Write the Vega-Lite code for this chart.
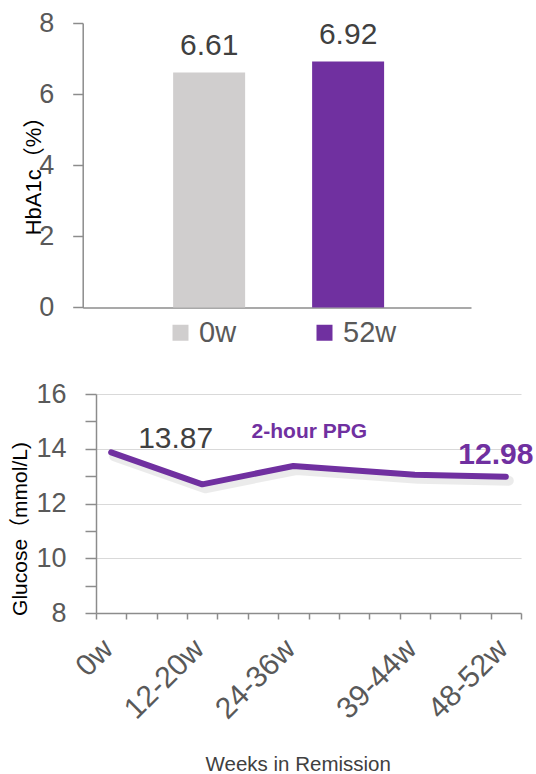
{
  "$schema": "https://vega.github.io/schema/vega-lite/v6.json",
  "background": "white",
  "padding": {"left": 8, "top": 9, "right": 2, "bottom": 0},
  "config": {
    "view": {"stroke": null},
    "font": "Liberation Sans"
  },
  "bounds": "flush",
  "spacing": 86,
  "vconcat": [
    {
      "width": 375,
      "height": 284.4,
      "data": {"values": [
        {"time": "0w", "hba1c": 6.61},
        {"time": "52w", "hba1c": 6.92}
      ]},
      "encoding": {
        "x": {
          "field": "time", "type": "nominal",
          "scale": {"type": "band", "range": [-13.3, 375], "paddingInner": 0.482, "paddingOuter": 0.638, "align": 0.51},
          "axis": {"labels": false, "ticks": false, "title": null, "domainColor": "#8c8c8c", "domainWidth": 1.5}
        },
        "y": {
          "field": "hba1c", "type": "quantitative",
          "scale": {"domain": [0, 8], "nice": false, "zero": true},
          "axis": {
            "values": [0, 2, 4, 6, 8], "grid": false, "offset": 13.3,
            "tickSize": 10, "tickColor": "#8c8c8c", "tickWidth": 1.5,
            "domainColor": "#8c8c8c", "domainWidth": 1.5,
            "labelFontSize": 27, "labelColor": "#595959", "labelPadding": 19,
            "title": "HbA1c（%）", "titleFont": "Liberation Sans, Noto Sans CJK SC",
            "titleFontSize": 22, "titleFontWeight": "normal", "titleColor": "#000000",
            "titleAngle": -90, "titleAlign": "center", "titleBaseline": "alphabetic",
            "titleX": -41.7, "titleY": 147
          }
        }
      },
      "layer": [
        {
          "mark": {"type": "bar"},
          "encoding": {
            "color": {
              "field": "time", "type": "nominal",
              "scale": {"domain": ["0w", "52w"], "range": ["#d0cece", "#7030a0"]},
              "legend": {
                "orient": "none", "legendX": 70, "legendY": 295, "direction": "horizontal",
                "title": null, "symbolType": "square", "symbolSize": 256, "symbolStrokeWidth": 0,
                "symbolOpacity": 1, "labelFontSize": 29, "labelColor": "#595959", "labelOffset": 4,
                "columnPadding": 73
              }
            }
          }
        },
        {
          "mark": {"type": "text", "fontSize": 30, "color": "#404040", "baseline": "alphabetic", "dy": -17.4},
          "encoding": {"text": {"field": "hba1c", "type": "quantitative", "format": ".2f"}}
        }
      ]
    },
    {
      "width": 425,
      "height": 219,
      "data": {"values": [
        {"period": "0w", "slot": 0, "glucose": 13.87, "series": "2-hour PPG"},
        {"period": "12-20w", "slot": 3, "glucose": 12.70, "series": "2-hour PPG"},
        {"period": "24-36w", "slot": 6, "glucose": 13.37, "series": "2-hour PPG"},
        {"period": "39-44w", "slot": 10, "glucose": 13.05, "series": "2-hour PPG"},
        {"period": "48-52w", "slot": 13, "glucose": 12.98, "series": "2-hour PPG"}
      ]},
      "encoding": {
        "x": {
          "field": "slot", "type": "quantitative",
          "scale": {"domain": [-0.5, 13.5], "nice": false, "zero": false},
          "axis": {
            "values": [-0.5, 0.5, 1.5, 2.5, 3.5, 4.5, 5.5, 6.5, 7.5, 8.5, 9.5, 10.5, 11.5, 12.5, 13.5],
            "grid": false, "tickSize": 6, "tickColor": "#8c8c8c", "tickWidth": 1.5,
            "domainColor": "#8c8c8c", "domainWidth": 1.5,
            "labelExpr": "datum.value == -0.5 ? '0w' : datum.value == 2.5 ? '12-20w' : datum.value == 5.5 ? '24-36w' : datum.value == 9.5 ? '39-44w' : datum.value == 12.5 ? '48-52w' : ''",
            "labelAngle": -45, "labelAlign": "right", "labelBaseline": "middle",
            "labelOffset": 12, "labelPadding": 25, "labelFontSize": 30, "labelColor": "#595959",
            "labelOverlap": false, "labelFlush": false, "labelBound": false,
            "title": "Weeks in Remission", "titleFontSize": 20.5, "titleFontWeight": "normal", "titleColor": "#404040",
            "titleX": 201.7, "titleY": 157.5, "titleAlign": "center", "titleBaseline": "alphabetic"
          }
        },
        "y": {
          "field": "glucose", "type": "quantitative",
          "scale": {"domain": [8, 16], "nice": false, "zero": false},
          "axis": {
            "values": [8, 9, 10, 11, 12, 13, 14, 15, 16],
            "labelExpr": "datum.value % 2 == 0 ? datum.label : ''",
            "grid": true, "gridColor": "#d9d9d9", "gridWidth": 1.2,
            "gridOpacity": {"condition": {"test": "datum.value % 2 == 1 || datum.value == 8", "value": 0}, "value": 1},
            "tickSize": 11, "tickColor": "#8c8c8c", "tickWidth": 1.5,
            "domainColor": "#8c8c8c", "domainWidth": 1.5,
            "labelFontSize": 27, "labelColor": "#595959", "labelPadding": 19,
            "title": "Glucose（mmol/L)", "titleFont": "Liberation Sans, Noto Sans CJK SC",
            "titleFontSize": 21, "titleFontWeight": "normal", "titleColor": "#000000",
            "titleAngle": -90, "titleAlign": "center", "titleBaseline": "alphabetic",
            "titleX": -70, "titleY": 134.5
          }
        }
      },
      "layer": [
        {
          "mark": {"type": "line", "color": "#000000", "opacity": 0.08, "strokeWidth": 10, "strokeCap": "round", "strokeJoin": "round", "xOffset": 3, "yOffset": 4}
        },
        {
          "mark": {"type": "line", "color": "#7030a0", "strokeWidth": 6, "strokeCap": "round", "strokeJoin": "round"}
        },
        {
          "transform": [{"filter": "datum.period == '0w'"}],
          "mark": {"type": "text", "fontSize": 30, "color": "#404040", "baseline": "alphabetic", "align": "center", "dx": 64.5, "dy": -4},
          "encoding": {"text": {"field": "glucose", "type": "quantitative", "format": ".2f"}}
        },
        {
          "transform": [{"filter": "datum.period == '48-52w'"}],
          "mark": {"type": "text", "fontSize": 30, "fontWeight": "bold", "color": "#7030a0", "baseline": "alphabetic", "align": "center", "dx": -10, "dy": -12.4},
          "encoding": {"text": {"field": "glucose", "type": "quantitative", "format": ".2f"}}
        },
        {
          "transform": [{"filter": "datum.period == '24-36w'"}],
          "mark": {"type": "text", "fontSize": 21, "fontWeight": "bold", "color": "#7030a0", "baseline": "alphabetic", "align": "center", "dx": 16, "dy": -28},
          "encoding": {"text": {"field": "series", "type": "nominal"}}
        }
      ]
    }
  ]
}
